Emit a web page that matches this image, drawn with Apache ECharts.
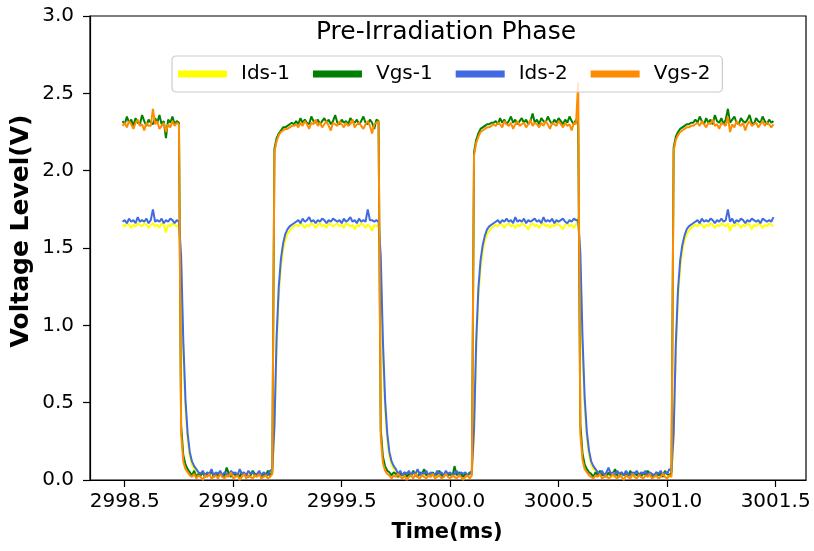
<!DOCTYPE html>
<html><head><meta charset="utf-8">
<script src="https://cdn.jsdelivr.net/npm/echarts@6/dist/echarts.min.js"></script>
<style>html,body{margin:0;padding:0;background:#fff}#c{width:814px;height:551px}</style>
</head><body><div id="c"></div>
<script>
// sampling grid of the recording (ms)
const timeStart = 2998.49;
const timeStep = 0.01;
const xTicks = [2998.5, 2999.0, 2999.5, 3000.0, 3000.5, 3001.0, 3001.5];
const seriesNames = ['Ids-1', 'Vgs-1', 'Ids-2', 'Vgs-2'];
const seriesColors = ['#ffff00', '#008000', '#4169e1', '#ff8c00'];

const idsOne = [
1.65,1.64,1.66,1.65,1.63,1.65,1.64,1.66,1.65,1.64,1.66,1.65,1.63,1.65,1.66,1.64,1.65,1.63,1.66,1.65,1.60,1.65,1.64,1.66,1.65,1.64,1.65,
1.35,0.82,0.46,0.26,0.15,0.10,0.07,0.06, 0.04,0.03,0.05,0.02,0.04,0.03,0.05,0.03,0.04,0.02, 0.05,0.03,0.04,0.02,0.03,0.05,0.03,0.04,0.02,0.05, 0.03,0.04,0.02,0.05,0.03,0.04,0.02,0.03,0.05,0.03, 0.04,0.02,0.03,0.05,0.04,
0.30,0.85,1.19,1.38,1.49,1.55,1.59,1.61,1.63,1.64, 1.65,1.64,1.66,1.65,1.63,1.65,1.64,1.66,1.65,1.63, 1.65,1.66,1.64,1.65,1.63,1.66,1.65,1.64,1.65,1.66, 1.64,1.65,1.63,1.66,1.65,1.64,1.65,1.62,1.65,1.64, 1.66,1.65,1.63,1.65,1.64,1.61,1.65,1.64,1.65,
1.33,0.80,0.45,0.26,0.15,0.10,0.07,0.06, 0.03,0.05,0.02,0.04,0.03,0.05,0.02,0.04,0.03,0.05, 0.02,0.04,0.03,0.05,0.02,0.04,0.03,0.02,0.05,0.03, 0.04,0.02,0.05,0.03,0.04,0.02,0.03,0.05,0.02,0.04, 0.03,0.04,0.02,0.03,0.05,
0.28,0.83,1.18,1.37,1.48,1.55,1.59,1.61,1.63,1.64, 1.65,1.64,1.66,1.65,1.63,1.65,1.66,1.64,1.65,1.63, 1.65,1.64,1.66,1.65,1.64,1.62,1.65,1.66,1.64,1.65, 1.63,1.65,1.66,1.64,1.65,1.63,1.65,1.64,1.66,1.65, 1.64,1.62,1.65,1.66,1.64,1.65,1.63,1.65,1.70,
1.37,0.83,0.47,0.27,0.16,0.10,0.07,0.06, 0.04,0.03,0.05,0.02,0.04,0.03,0.05,0.02,0.04,0.03, 0.05,0.02,0.04,0.03,0.05,0.03,0.02,0.04,0.03,0.05, 0.02,0.04,0.03,0.05,0.02,0.04,0.03,0.02,0.04,0.03, 0.05,0.03,0.04,0.02,0.04,
0.26,0.82,1.17,1.37,1.48,1.55,1.59,1.61,1.63,1.64, 1.65,1.64,1.66,1.65,1.63,1.65,1.64,1.66,1.65,1.63, 1.65,1.64,1.66,1.65,1.64,1.66,1.61,1.65,1.64,1.66, 1.65,1.63,1.65,1.64,1.66,1.65,1.62,1.65,1.64,1.66, 1.65,1.63,1.65,1.64,1.66,1.65,1.64
];

const vgsOne = [
2.32,2.30,2.35,2.31,2.33,2.29,2.34,2.31,2.30,2.36,2.32,2.29,2.33,2.31,2.30,2.34,2.31,2.36,2.30,2.32,2.21,2.33,2.31,2.35,2.30,2.32,2.31,
0.35,0.16,0.10,0.07,0.05, 0.03,0.06,0.02,0.04,0.03, 0.05,0.02,0.04,0.03,0.06, 0.02,0.04,0.03,0.05,0.02, 0.03,0.08,0.04,0.02,0.05, 0.03,0.04,0.02,0.05,0.03, 0.04,0.02,0.03,0.06,0.04, 0.03,0.05,0.02,0.04,0.03, 0.06,0.03,0.05,
2.14,2.21,2.24,2.26,2.28,2.28,2.29,2.30,2.31,2.30, 2.32,2.30,2.34,2.31,2.33,2.31,2.30,2.35,2.32,2.31, 2.33,2.30,2.32,2.34,2.31,2.33,2.30,2.32,2.36,2.31, 2.30,2.33,2.31,2.32,2.30,2.34,2.32,2.31,2.33,2.30, 2.32,2.35,2.31,2.30,2.33,2.31,2.27,2.33,2.32,
0.33,0.15,0.09,0.06,0.05, 0.03,0.05,0.04,0.02,0.04, 0.03,0.05,0.02,0.04,0.03, 0.06,0.03,0.02,0.05,0.04, 0.07,0.03,0.04,0.02,0.05, 0.03,0.04,0.06,0.03,0.02, 0.05,0.03,0.04,0.02,0.09, 0.03,0.05,0.04,0.02,0.04, 0.03,0.05,0.04,
2.12,2.20,2.24,2.27,2.28,2.29,2.30,2.30,2.31,2.31, 2.32,2.30,2.34,2.31,2.33,2.30,2.32,2.35,2.31,2.33, 2.30,2.32,2.34,2.31,2.33,2.30,2.32,2.37,2.31,2.33, 2.30,2.34,2.32,2.31,2.35,2.32,2.30,2.33,2.31,2.34, 2.32,2.30,2.33,2.31,2.35,2.32,2.30,2.33,2.31,
0.36,0.17,0.10,0.07,0.05, 0.04,0.02,0.05,0.03,0.06, 0.03,0.04,0.02,0.05,0.03, 0.04,0.07,0.03,0.02,0.05, 0.03,0.04,0.02,0.06,0.03, 0.05,0.03,0.04,0.02,0.05, 0.03,0.06,0.04,0.03,0.02, 0.05,0.03,0.04,0.02,0.06, 0.04,0.03,0.05,
2.15,2.22,2.25,2.27,2.28,2.29,2.30,2.30,2.31,2.31, 2.33,2.31,2.35,2.32,2.30,2.34,2.31,2.33,2.30,2.36, 2.32,2.31,2.34,2.30,2.33,2.40,2.31,2.33,2.35,2.31, 2.30,2.34,2.32,2.31,2.33,2.36,2.31,2.30,2.34,2.32, 2.31,2.35,2.32,2.30,2.33,2.31,2.32
];

const idsTwo = [
1.67,1.68,1.66,1.69,1.67,1.68,1.66,1.70,1.67,1.68,1.67,1.69,1.66,1.68,1.75,1.67,1.68,1.67,1.69,1.66,1.68,1.67,1.69,1.68,1.66,1.68,1.67,
1.45,0.90,0.52,0.30,0.18,0.12,0.09,0.07, 0.05,0.04,0.06,0.03,0.05,0.04,0.07,0.03,0.05,0.04, 0.06,0.03,0.05,0.04,0.03,0.06,0.04,0.05,0.03,0.07, 0.04,0.05,0.03,0.06,0.04,0.05,0.03,0.04,0.06,0.03, 0.05,0.04,0.03,0.06,0.07,
0.35,0.92,1.25,1.43,1.53,1.59,1.62,1.64,1.65,1.66, 1.67,1.68,1.66,1.69,1.67,1.68,1.70,1.67,1.68,1.66, 1.68,1.67,1.69,1.68,1.66,1.68,1.67,1.69,1.68,1.67, 1.68,1.66,1.69,1.67,1.68,1.70,1.67,1.68,1.66,1.69, 1.67,1.68,1.67,1.75,1.68,1.68,1.67,1.68,1.67,
1.45,0.90,0.52,0.30,0.18,0.12,0.09,0.07, 0.04,0.06,0.03,0.05,0.04,0.06,0.03,0.05,0.04,0.07, 0.03,0.05,0.04,0.06,0.03,0.05,0.04,0.03,0.06,0.04, 0.05,0.03,0.06,0.04,0.05,0.03,0.04,0.06,0.03,0.05, 0.04,0.05,0.03,0.04,0.06,
0.33,0.90,1.24,1.42,1.52,1.58,1.62,1.64,1.65,1.66, 1.67,1.68,1.66,1.68,1.67,1.69,1.67,1.68,1.66,1.70, 1.67,1.68,1.67,1.69,1.66,1.68,1.67,1.68,1.69,1.67, 1.68,1.66,1.70,1.67,1.68,1.67,1.69,1.66,1.68,1.67, 1.68,1.69,1.67,1.66,1.68,1.67,1.69,1.68,1.68,
1.47,0.92,0.53,0.31,0.19,0.12,0.09,0.07, 0.05,0.04,0.06,0.03,0.05,0.08,0.04,0.05,0.03,0.06, 0.04,0.05,0.03,0.06,0.04,0.03,0.05,0.04,0.06,0.03, 0.05,0.04,0.06,0.03,0.05,0.04,0.03,0.05,0.04,0.06, 0.03,0.05,0.04,0.07,0.06,
0.30,0.88,1.23,1.42,1.52,1.58,1.62,1.64,1.65,1.66, 1.67,1.68,1.66,1.69,1.67,1.68,1.67,1.69,1.68,1.66, 1.68,1.67,1.69,1.67,1.68,1.75,1.67,1.69,1.66,1.68, 1.67,1.69,1.68,1.66,1.68,1.67,1.69,1.68,1.67,1.68, 1.66,1.69,1.68,1.67,1.68,1.67,1.70
];

const vgsTwo = [
2.29,2.31,2.28,2.32,2.30,2.27,2.31,2.33,2.29,2.30,2.26,2.31,2.29,2.29,2.40,2.30,2.32,2.27,2.29,2.31,2.25,2.30,2.28,2.32,2.29,2.31,2.30,
0.30,0.12,0.07,0.05,0.03, 0.02,0.04,0.01,0.03,0.02, 0.00,0.03,0.02,0.04,0.01, 0.02,0.03,0.01,0.04,0.02, 0.01,0.03,0.02,0.05,0.01, 0.02,0.03,0.00,0.02,0.04, 0.01,0.03,0.02,0.01,0.03, 0.02,0.04,0.01,0.02,0.03, 0.01,0.02,0.04,
2.12,2.19,2.23,2.25,2.26,2.27,2.27,2.28,2.29,2.29, 2.30,2.28,2.31,2.29,2.32,2.30,2.27,2.31,2.30,2.33, 2.29,2.31,2.28,2.30,2.32,2.29,2.26,2.31,2.30,2.29, 2.32,2.30,2.28,2.31,2.29,2.30,2.33,2.28,2.30,2.31, 2.29,2.27,2.30,2.32,2.29,2.24,2.30,2.31,2.32,
0.28,0.11,0.06,0.04,0.03, 0.01,0.03,0.02,0.04,0.02, 0.01,0.03,0.00,0.02,0.03, 0.01,0.04,0.02,0.01,0.03, 0.02,0.01,0.03,0.02,0.04, 0.01,0.02,0.03,0.01,0.02, 0.04,0.02,0.01,0.03,0.02, 0.01,0.03,0.02,0.00,0.02, 0.03,0.01,0.03,
2.10,2.18,2.22,2.25,2.26,2.27,2.28,2.28,2.29,2.30, 2.29,2.31,2.30,2.28,2.32,2.30,2.29,2.31,2.27,2.30, 2.32,2.29,2.30,2.31,2.28,2.30,2.33,2.29,2.31,2.30, 2.28,2.31,2.29,2.32,2.30,2.27,2.31,2.30,2.29,2.32, 2.30,2.28,2.31,2.29,2.30,2.26,2.31,2.30,2.57,
0.30,0.13,0.07,0.05,0.03, 0.02,0.01,0.03,0.02,0.04, 0.01,0.02,0.03,0.01,0.02, 0.04,0.02,0.01,0.03,0.02, 0.00,0.03,0.02,0.01,0.04, 0.02,0.01,0.03,0.02,0.01, 0.03,0.02,0.04,0.01,0.02, 0.03,0.01,0.02,0.04,0.02, 0.01,0.03,0.02,
2.13,2.20,2.23,2.25,2.26,2.27,2.28,2.28,2.29,2.29, 2.30,2.31,2.29,2.32,2.30,2.28,2.31,2.30,2.33,2.29, 2.30,2.27,2.31,2.30,2.29,2.35,2.25,2.30,2.28,2.32, 2.30,2.29,2.31,2.26,2.30,2.32,2.29,2.30,2.31,2.28, 2.30,2.32,2.29,2.31,2.30,2.28,2.30
];

const seriesValues = [idsOne, vgsOne, idsTwo, vgsTwo];
const FONT = 'DejaVu Sans';

function withTime(vals) {
  return vals.map((v, i) => [Number((timeStart + i * timeStep).toFixed(2)), v]);
}

const chart = echarts.init(document.getElementById('c'), null, {renderer: 'canvas'});
chart.setOption({
  animation: false,
  backgroundColor: '#ffffff',
  textStyle: {fontFamily: FONT},
  grid: {left: 90, right: 8, top: 16, bottom: 71, show: true, borderColor: '#000', borderWidth: 1.2, backgroundColor: 'transparent'},
  xAxis: {
    type: 'value', min: 2998.34, max: 3001.64,
    axisLine: {show: true, onZero: false, lineStyle: {color: '#000', width: 1.2}},
    axisTick: {show: true, customValues: xTicks, length: 7, lineStyle: {color: '#000', width: 1.2}},
    axisLabel: {customValues: xTicks, formatter: v => Number(v).toFixed(1), fontSize: 20, color: '#000', fontFamily: FONT, margin: 12},
    splitLine: {show: false}
  },
  yAxis: {
    type: 'value', min: 0, max: 3, interval: 0.5,
    axisLine: {show: true, lineStyle: {color: '#000', width: 1.2}},
    axisTick: {show: true, length: 7, lineStyle: {color: '#000', width: 1.2}},
    axisLabel: {formatter: v => Number(v).toFixed(1), fontSize: 20, color: '#000', fontFamily: FONT, margin: 16},
    splitLine: {show: false}
  },
  legend: {
    left: 172, top: 56,
    data: seriesNames,
    icon: 'rect', itemWidth: 49, itemHeight: 7, itemGap: 23,
    padding: [8, 12, 8, 6],
    backgroundColor: 'rgba(255,255,255,0.8)',
    borderColor: '#cccccc', borderWidth: 1.2, borderRadius: 4,
    textStyle: {fontSize: 20, fontFamily: FONT, color: '#000', padding: [0, 0, 0, 9]}
  },
  graphic: [
    {type: 'text', x: 446, y: 32, style: {text: 'Pre-Irradiation Phase', font: '25px "DejaVu Sans"', fill: '#000', textAlign: 'center', textVerticalAlign: 'middle'}},
    {type: 'text', x: 447, y: 533, style: {text: 'Time(ms)', font: 'bold 21px "DejaVu Sans"', fill: '#000', textAlign: 'center', textVerticalAlign: 'middle'}},
    {type: 'text', x: 21, y: 231, rotation: Math.PI / 2, style: {text: 'Voltage Level(V)', font: 'bold 25px "DejaVu Sans"', fill: '#000', textAlign: 'center', textVerticalAlign: 'middle'}}
  ],
  series: seriesNames.map((name, k) => ({
    name: name, type: 'line', data: withTime(seriesValues[k]),
    showSymbol: false, symbol: 'none', clip: true,
    color: seriesColors[k],
    lineStyle: {color: seriesColors[k], width: 2},
    emphasis: {disabled: true}
  }))
});
</script>
</body></html>
